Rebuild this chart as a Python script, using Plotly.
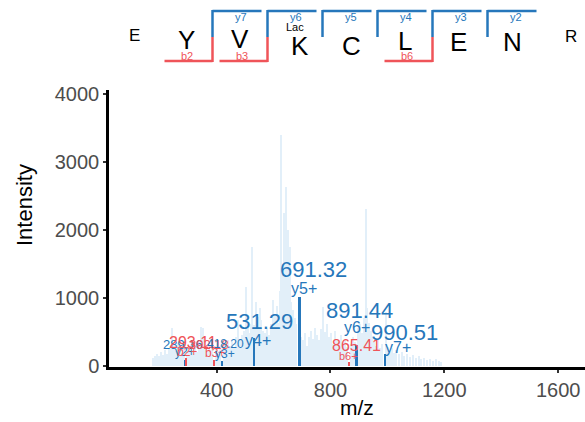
import plotly.graph_objects as go

# ---------------- data ----------------
noise_mz = [176, 183, 190, 197, 204, 211, 218, 226, 233, 240, 243, 250, 257, 264, 271, 279, 286, 296, 303, 310,
            317, 324, 331, 338, 345, 351, 358, 365, 372, 379, 386, 399, 406, 413, 425, 432, 439, 446, 453, 460,
            467, 475, 482, 489, 496, 502, 509, 516, 521, 526, 533, 540, 547, 553, 558, 565, 572, 579, 586, 593,
            599, 605, 611, 617, 622, 628, 633, 637, 641, 645, 650, 657, 663, 669, 675, 681, 698, 705, 712, 719,
            726, 733, 740, 747, 754, 761, 768, 773, 780, 787, 794, 801, 808, 815, 822, 829, 836, 843, 850, 857,
            872, 879, 886, 898, 905, 912, 918, 925, 930, 936, 942, 948, 955, 962, 969, 976, 983, 995, 1002, 1009,
            1016, 1023, 1030, 1040, 1050, 1060, 1070, 1080, 1090, 1100, 1110, 1120, 1130, 1140, 1150, 1160, 1170,
            1180, 1190]
noise_int = [120, 150, 180, 140, 200, 160, 230, 180, 260, 300, 560, 280, 220, 340, 250, 190, 300, 260, 220, 330,
             240, 300, 200, 350, 580, 560, 260, 210, 280, 230, 310, 270, 220, 300, 330, 260, 380, 300, 350, 270,
             420, 680, 380, 450, 520, 1170, 560, 480, 620, 1750, 600, 940, 720, 850, 680, 520, 480, 560, 450, 620,
             970, 760, 880, 640, 1100, 3400, 1500, 2250, 1600, 2630, 2000, 1750, 950, 820, 700, 620, 420, 380, 480, 300,
             420, 520, 400, 560, 450, 380, 540, 870, 500, 620, 420, 480, 330, 520, 400, 350, 460, 300, 380, 280,
             320, 420, 360, 560, 620, 480, 700, 2320, 850, 640, 520, 420, 360, 300, 380, 260, 320, 800, 280, 220,
             260, 190, 240, 180, 210, 150, 180, 130, 160, 120, 140, 100, 120, 90, 110, 80, 100,
             70, 60]

peak_mz = [289.16, 293.11, 392.18, 418.20, 531.29, 691.32, 865.41, 891.44, 990.51]
peak_int = [95, 120, 90, 80, 405, 1015, 60, 310, 175]
peak_ion = ["y2+", "b2+", "b3+", "y3+", "y4+", "y5+", "b6+", "y6+", "y7+"]

peptide = ["E", "Y", "V", "K", "C", "L", "E", "N", "R"]
y_ions = [7, 6, 5, 4, 3, 2]
b_ions = [2, 3, 6]
modifications = {3: "Lac"}

x_ticks = [400, 800, 1200, 1600]
y_ticks = [0, 1000, 2000, 3000, 4000]

# ---------------- style / layout ----------------
BLUE = "#2677bb"
RED = "#ef5459"
NOISE = "#e2eff9"
FONT = "Liberation Sans, Arial, sans-serif"

W, H = 585, 422
L, R, T, B = 109, 585, 90, 367


def px(X):
    return (X - L) / (R - L)


def py(Y):
    return (B - Y) / (B - T)


# per-label offsets (pixels) relative to peak top: (dx, dy, size) for m/z text and ion text
mz_lab = [(-2, 15, 13), (7, 15, 16), (-5, 15, 13), (4, 17, 12), (6, 17, 22), (14, 28, 22), (7, 16, 16), (3, 34, 22), (20, 22, 22)]
ion_lab = [(0, 8, 12), (1, 6, 12), (1, 7, 12), (3, 7, 12), (4, -2, 16), (4, 9, 16), (-1, 6, 11), (0, 17, 16), (13, 7, 16)]

colors = [BLUE if s.startswith("y") else RED for s in peak_ion]

fig = go.Figure()
fig.add_trace(go.Bar(x=noise_mz, y=noise_int, width=4.5, marker=dict(color=NOISE, line=dict(width=0)),
                     hoverinfo="skip", showlegend=False))
fig.add_trace(go.Bar(x=peak_mz, y=peak_int, width=7.5, marker=dict(color=colors, line=dict(width=0)),
                     showlegend=False))

ann = []
for i, mz in enumerate(peak_mz):
    dx, dy, s = mz_lab[i]
    ann.append(dict(x=mz, y=peak_int[i], xref="x", yref="y", text=f"{mz:.2f}", showarrow=False,
                    xshift=dx, yshift=dy, xanchor="center", yanchor="middle",
                    font=dict(family=FONT, size=s, color=colors[i])))
    dx, dy, s = ion_lab[i]
    ann.append(dict(x=mz, y=peak_int[i], xref="x", yref="y", text=peak_ion[i], showarrow=False,
                    xshift=dx, yshift=dy, xanchor="center", yanchor="middle",
                    font=dict(family=FONT, size=s, color=colors[i])))

# peptide sequence
letter_x = [134, 186, 239.5, 300, 351, 404.5, 458, 512.5, 571]
letter_y = [35, 40, 39, 46, 46, 41, 42, 42, 37]
n = len(peptide)
for i, aa in enumerate(peptide):
    size = 17 if i in (0, n - 1) else 26
    ann.append(dict(x=px(letter_x[i]), y=py(letter_y[i]), xref="paper", yref="paper", text=aa,
                    showarrow=False, xanchor="center", yanchor="middle",
                    font=dict(family=FONT, size=size, color="black")))
for i, m in modifications.items():
    ann.append(dict(x=px(letter_x[i] - 5), y=py(27), xref="paper", yref="paper", text=m,
                    showarrow=False, xanchor="center", yanchor="middle",
                    font=dict(family=FONT, size=11, color="black")))


def boundary(k):
    return 102.5 + 55 * k


shapes = []
for nion in y_ions:
    bx = boundary(n - nion)
    shapes.append(dict(type="line", xref="paper", yref="paper", x0=px(bx), x1=px(bx), y0=py(37), y1=py(10),
                       line=dict(color=BLUE, width=2.5)))
    shapes.append(dict(type="line", xref="paper", yref="paper", x0=px(bx), x1=px(bx + 49), y0=py(11), y1=py(11),
                       line=dict(color=BLUE, width=2.5)))
    ann.append(dict(x=px(bx + 28), y=py(17), xref="paper", yref="paper", text=f"y{nion}", showarrow=False,
                    xanchor="center", yanchor="middle", font=dict(family=FONT, size=11, color=BLUE)))
for nion in b_ions:
    bx = boundary(nion)
    shapes.append(dict(type="line", xref="paper", yref="paper", x0=px(bx), x1=px(bx), y0=py(37), y1=py(62),
                       line=dict(color=RED, width=2.5)))
    shapes.append(dict(type="line", xref="paper", yref="paper", x0=px(bx - 48), x1=px(bx), y0=py(61), y1=py(61),
                       line=dict(color=RED, width=2.5)))
    ann.append(dict(x=px(bx - 26), y=py(56), xref="paper", yref="paper", text=f"b{nion}", showarrow=False,
                    xanchor="center", yanchor="middle", font=dict(family=FONT, size=11, color=RED)))

# axis titles
ann.append(dict(x=px(24), y=py(205), xref="paper", yref="paper", text="Intensity", textangle=-90,
                showarrow=False, xanchor="center", yanchor="middle", font=dict(family=FONT, size=22, color="black")))
ann.append(dict(x=px(357), y=py(408), xref="paper", yref="paper", text="m/z",
                showarrow=False, xanchor="center", yanchor="middle", font=dict(family=FONT, size=21, color="black")))

fig.update_layout(
    width=W, height=H,
    margin=dict(l=L, r=W - R, t=T, b=H - B, autoexpand=False),
    plot_bgcolor="white", paper_bgcolor="white",
    barmode="overlay", bargap=0,
    showlegend=False,
    annotations=ann, shapes=shapes,
    font=dict(family=FONT),
    xaxis=dict(range=[22, 1694], tickvals=x_ticks, ticktext=[str(v) for v in x_ticks],
               showgrid=False, zeroline=False, showline=True, linecolor="black", linewidth=2.5,
               ticks="outside", ticklen=3, tickwidth=2, tickcolor="#333333", automargin=False,
               tickfont=dict(family=FONT, size=20, color="#4d4d4d")),
    yaxis=dict(range=[-15, 4066], tickvals=y_ticks, ticktext=[str(v) for v in y_ticks],
               showgrid=False, zeroline=False, showline=True, linecolor="black", linewidth=2.5,
               ticks="outside", ticklen=3, tickwidth=2, tickcolor="#333333", automargin=False,
               tickfont=dict(family=FONT, size=20, color="#4d4d4d")),
)

fig.write_html("out.html", config={"displayModeBar": False},
               post_script="document.body.style.margin='0';document.body.style.overflow='hidden';")
